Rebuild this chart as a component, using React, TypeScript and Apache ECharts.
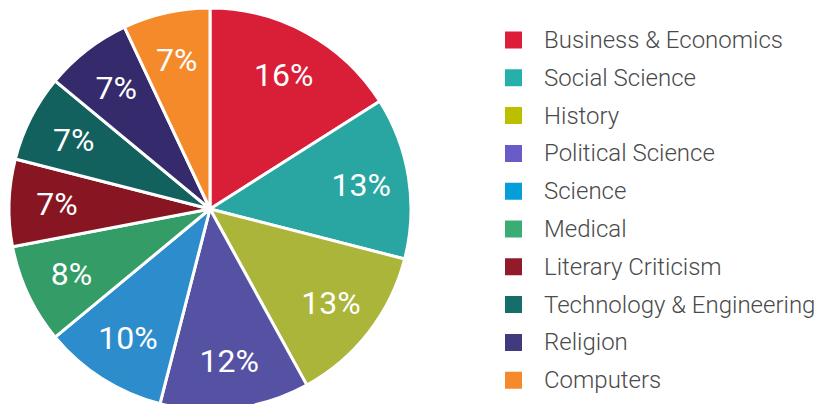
import React, { useEffect, useRef } from "react";
import * as echarts from "echarts";

const categories = [
  "Business & Economics",
  "Social Science",
  "History",
  "Political Science",
  "Science",
  "Medical",
  "Literary Criticism",
  "Technology & Engineering",
  "Religion",
  "Computers",
];
const values = [16, 13, 13, 12, 10, 8, 7, 7, 7, 7];
const sliceColors = [
  "#d91e37", "#29a6a1", "#aab53a", "#5552a3", "#2d8dcc",
  "#349d67", "#871622", "#12615e", "#352b6c", "#f48a2a",
];
const legendColors = [
  "#dc1e3a", "#26b0ab", "#bcbe00", "#6a5cc6", "#069ed8",
  "#3aac76", "#921b2b", "#166e6b", "#413a7d", "#f6892b",
];

export default function App() {
  const ref = useRef<HTMLDivElement>(null);
  useEffect(() => {
    if (!ref.current) return;
    const chart = echarts.init(ref.current, null, { renderer: "svg" });
    const data = categories.map((name, i) => ({
      name,
      value: values[i],
      itemStyle: { color: sliceColors[i] },
    }));
    chart.setOption({
      animation: false,
      legend: {
        orient: "vertical",
        left: 503,
        top: 28,
        padding: 0,
        itemWidth: 19,
        itemHeight: 19,
        itemGap: 13.8,
        icon: "rect",
        data: categories.map((name, i) => ({
          name,
          itemStyle: { color: legendColors[i] },
        })),
        textStyle: {
          fontFamily: "Roboto",
          fontWeight: 300,
          fontSize: 24,
          color: "#4a4a4a",
          padding: [0, 0, 0, 16],
        },
        selectedMode: false,
      },
      series: [
        {
          type: "pie",
          center: [210, 209],
          radius: [0, 201],
          startAngle: 90,
          clockwise: true,
          silent: true,
          label: { show: false },
          labelLine: { show: false },
          itemStyle: { borderColor: "#ffffff", borderWidth: 3 },
          data,
        },
        {
          type: "pie",
          center: [210, 209],
          radius: [100, 200],
          startAngle: 90,
          clockwise: true,
          silent: true,
          legendHoverLink: false,
          itemStyle: { color: "rgba(0,0,0,0)", borderWidth: 0 },
          label: {
            show: true,
            position: "inside",
            color: "#ffffff",
            fontFamily: "Roboto",
            fontSize: 32,
            fontWeight: 400,
            formatter: (p: any) => p.value + "%",
          },
          labelLine: { show: false },
          data: categories.map((name, i) => ({ name, value: values[i] })),
        },
      ],
    });
    return () => chart.dispose();
  }, []);
  return (
    <div
      ref={ref}
      style={{ position: "fixed", left: 0, top: 0, width: 821, height: 404, background: "#ffffff" }}
    />
  );
}
